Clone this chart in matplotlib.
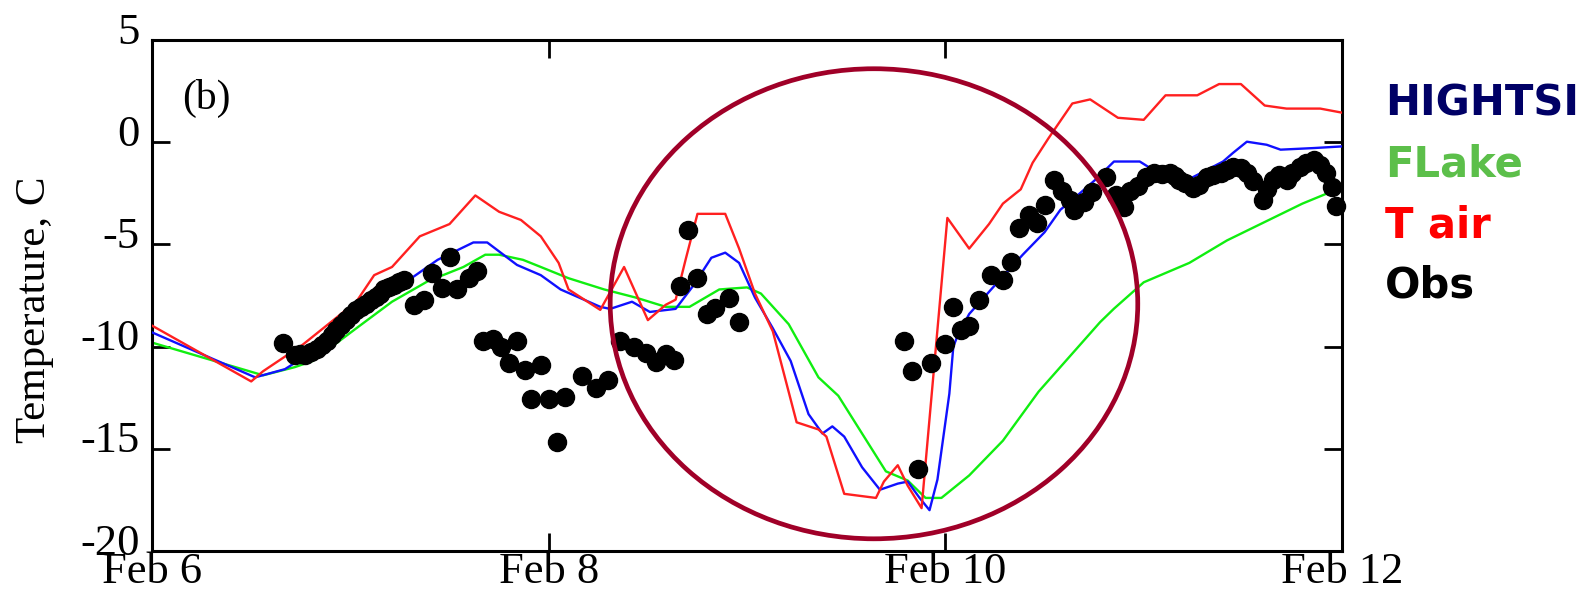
import numpy as np
import matplotlib
matplotlib.use("Agg")
import matplotlib.pyplot as plt
from matplotlib.patches import Ellipse
from matplotlib.transforms import ScaledTranslation

# x = days since Feb 6
tair_x = [0.00, 0.50, 0.56, 0.76, 1.03, 1.12, 1.21, 1.35, 1.50, 1.63, 1.75, 1.86, 1.96, 2.05,
          2.10, 2.26, 2.38, 2.50, 2.59, 2.64, 2.69, 2.75, 2.89, 2.96, 3.04, 3.13, 3.18, 3.25,
          3.36, 3.40, 3.49, 3.65, 3.69, 3.76, 3.81, 3.88, 4.01, 4.12, 4.22, 4.29, 4.38, 4.44,
          4.52, 4.64, 4.73, 4.87, 5.00, 5.11, 5.27, 5.38, 5.49, 5.61, 5.72, 5.89, 6.00]
tair_y = [-8.97, -11.7, -11.2, -9.9, -7.8, -6.5, -6.1, -4.6, -4.0, -2.6, -3.4, -3.8, -4.6, -5.9,
          -7.2, -8.2, -6.1, -8.7, -7.95, -7.7, -5.75, -3.5, -3.5, -5.2, -7.4, -9.25, -11.1, -13.7,
          -14.05, -14.4, -17.2, -17.4, -16.6, -15.8, -16.8, -17.9, -3.7, -5.2, -4.0, -3.0, -2.3, -1.0,
          0.2, 1.9, 2.1, 1.2, 1.1, 2.3, 2.3, 2.85, 2.85, 1.8, 1.65, 1.65, 1.45]

hightsi_x = [0.00, 0.52, 0.67, 0.85, 1.12, 1.30, 1.44, 1.62, 1.69, 1.84, 1.96, 2.06, 2.26, 2.31,
             2.42, 2.51, 2.64, 2.73, 2.82, 2.89, 2.96, 3.04, 3.13, 3.22, 3.31, 3.38, 3.43, 3.49,
             3.58, 3.67, 3.76, 3.81, 3.87, 3.92, 3.96, 4.02, 4.04, 4.06, 4.12, 4.24, 4.39, 4.50,
             4.58, 4.66, 4.76, 4.85, 4.98, 5.17, 5.40, 5.45, 5.52, 5.62, 5.69, 5.86, 6.00]
hightsi_y = [-9.3, -11.5, -11.1, -10.0, -7.8, -6.7, -5.75, -4.9, -4.9, -6.0, -6.5, -7.2, -8.05, -8.15,
             -7.8, -8.3, -8.15, -7.0, -5.65, -5.4, -5.9, -7.6, -9.1, -10.7, -13.3, -14.25, -13.9, -14.4,
             -15.9, -17.0, -16.7, -16.6, -17.4, -18.0, -16.5, -12.3, -10.0, -9.5, -8.4, -7.1, -5.5, -4.4,
             -3.3, -2.65, -1.8, -0.94, -0.94, -2.1, -0.94, -0.52, 0.03, -0.12, -0.36, -0.28, -0.2]

flake_x = [0.00, 0.49, 0.56, 0.72, 0.81, 1.03, 1.21, 1.39, 1.57, 1.68, 1.75, 1.87, 1.96, 2.10,
           2.28, 2.44, 2.59, 2.71, 2.86, 3.00, 3.07, 3.21, 3.36, 3.46, 3.58, 3.70, 3.81, 3.90,
           3.98, 4.12, 4.29, 4.47, 4.78, 4.85, 5.00, 5.23, 5.42, 5.61, 5.80, 6.00]
flake_y = [-9.8, -11.2, -11.4, -11.0, -10.7, -9.1, -7.8, -6.8, -6.1, -5.5, -5.5, -5.75, -6.1, -6.65,
           -7.2, -7.6, -8.05, -8.05, -7.2, -7.1, -7.4, -8.9, -11.5, -12.4, -14.25, -16.1, -16.55, -17.4,
           -17.4, -16.3, -14.6, -12.2, -8.8, -8.14, -6.85, -5.9, -4.8, -3.9, -3.0, -2.2]

obs_x = [0.66, 0.72, 0.745, 0.77, 0.80, 0.83, 0.855, 0.88, 0.905, 0.93, 0.955, 0.98, 1.005, 1.03,
         1.055, 1.08, 1.105, 1.13, 1.15, 1.17, 1.195, 1.22, 1.245, 1.27, 1.32,
         1.37, 1.41, 1.46, 1.50, 1.54, 1.60, 1.64, 1.67, 1.72, 1.76, 1.80, 1.84, 1.88, 1.91,
         1.96, 2.00, 2.04, 2.08, 2.17, 2.24, 2.30, 2.36, 2.43, 2.49, 2.54, 2.59, 2.63, 2.66,
         2.70, 2.75, 2.80, 2.84, 2.91, 2.96, 3.79, 3.83, 3.86, 3.93, 4.00, 4.04, 4.08, 4.12,
         4.17, 4.23, 4.29, 4.33, 4.37, 4.42, 4.46, 4.50, 4.55, 4.59, 4.63, 4.65, 4.70, 4.74, 4.81,
         4.86, 4.90, 4.93, 4.97, 5.01, 5.05, 5.09, 5.13, 5.16, 5.18, 5.21, 5.25, 5.28, 5.32, 5.35,
         5.39, 5.42, 5.45, 5.49, 5.52, 5.55, 5.60, 5.62, 5.65, 5.68, 5.72, 5.75, 5.79, 5.82,
         5.86, 5.89, 5.92, 5.95, 5.97]
obs_y = [-9.8, -10.4, -10.35, -10.4, -10.25, -10.1, -9.9, -9.7, -9.45, -9.2, -8.95, -8.7, -8.45, -8.2,
         -8.05, -7.9, -7.7, -7.55, -7.4, -7.2, -7.1, -7.0, -6.85, -6.75, -7.95,
         -7.7, -6.4, -7.15, -5.6, -7.2, -6.65, -6.3, -9.7, -9.6, -10.0, -10.8, -9.7, -11.15, -12.55,
         -10.9, -12.55, -14.65, -12.45, -11.45, -12.0, -11.65, -9.7, -10.0, -10.3, -10.75, -10.35, -10.65, -7.05,
         -4.3, -6.65, -8.4, -8.1, -7.6, -8.8, -9.7, -11.2, -16.0, -10.8, -9.85, -8.05, -9.2, -9.0,
         -7.7, -6.5, -6.75, -5.85, -4.2, -3.55, -3.95, -3.05, -1.85, -2.4, -2.8, -3.3, -2.9, -2.45, -1.7,
         -2.6, -3.15, -2.4, -2.15, -1.7, -1.5, -1.55, -1.5, -1.65, -1.85, -2.0, -2.25, -2.1, -1.7, -1.6,
         -1.5, -1.35, -1.2, -1.25, -1.5, -1.9, -2.8, -2.3, -1.85, -1.6, -1.85, -1.5, -1.2, -1.0,
         -0.85, -1.1, -1.5, -2.2, -3.1]

x_ticks = [0, 2, 4, 6]
x_labels = ["Feb 6", "Feb 8", "Feb 10", "Feb 12"]
y_ticks = [5, 0, -5, -10, -15, -20]

serif = "Liberation Serif"

fig = plt.figure(figsize=(15.92, 5.90), dpi=100)
ax = fig.add_axes([0.0955, 0.066, 0.7475, 0.866])

ax.plot(flake_x, flake_y, color="#10ee10", lw=1.7, zorder=2)
ax.plot(hightsi_x, hightsi_y, color="#1010ff", lw=1.7, zorder=3)
ax.plot(tair_x, tair_y, color="#ff2020", lw=1.7, zorder=4)
ax.plot(obs_x, obs_y, "o", color="black", ms=13, mec="black", zorder=5, clip_on=False)

ax.add_patch(Ellipse((3.64, -7.9), 2.66, 23.0, fill=False, ec="#a00028", lw=3.4, zorder=6))

ax.set_xlim(0, 6)
ax.set_ylim(-20, 5)
ax.set_xticks(x_ticks)
ax.set_xticklabels(x_labels, fontfamily=serif, fontsize=32)
ax.set_yticks(y_ticks)
ax.set_yticklabels([str(v) for v in y_ticks], fontfamily=serif, fontsize=32)
ax.tick_params(axis="both", direction="in", length=13, width=2, top=True, right=True)
ax.tick_params(axis="x", pad=1)
ax.tick_params(axis="y", pad=9)
for s in ax.spines.values():
    s.set_linewidth(2.2)

shift = ScaledTranslation(0, 12 / 100, fig.dpi_scale_trans)
for lab in ax.get_yticklabels():
    lab.set_transform(lab.get_transform() + shift)

fig.text(35 / 1592, 1 - 310 / 590, "Temperature, C", rotation=90, ha="center", va="center",
         fontfamily=serif, fontsize=31)
fig.text(182 / 1592, 1 - 98 / 590, "(b)", ha="left", va="center", fontfamily=serif, fontsize=30)

legend_names = ["HIGHTSI", "FLake", "T air", "Obs"]
legend_colors = ["#000066", "#5cbf4a", "#ff0000", "#000000"]
legend_y = [103, 165, 226, 285]
for name, c, yy in zip(legend_names, legend_colors, legend_y):
    fig.text(1385 / 1592, 1 - yy / 590, name, color=c, ha="left", va="center",
             fontfamily="DejaVu Sans", fontweight="bold", fontsize=30)

fig.savefig("out.png", dpi=100)
